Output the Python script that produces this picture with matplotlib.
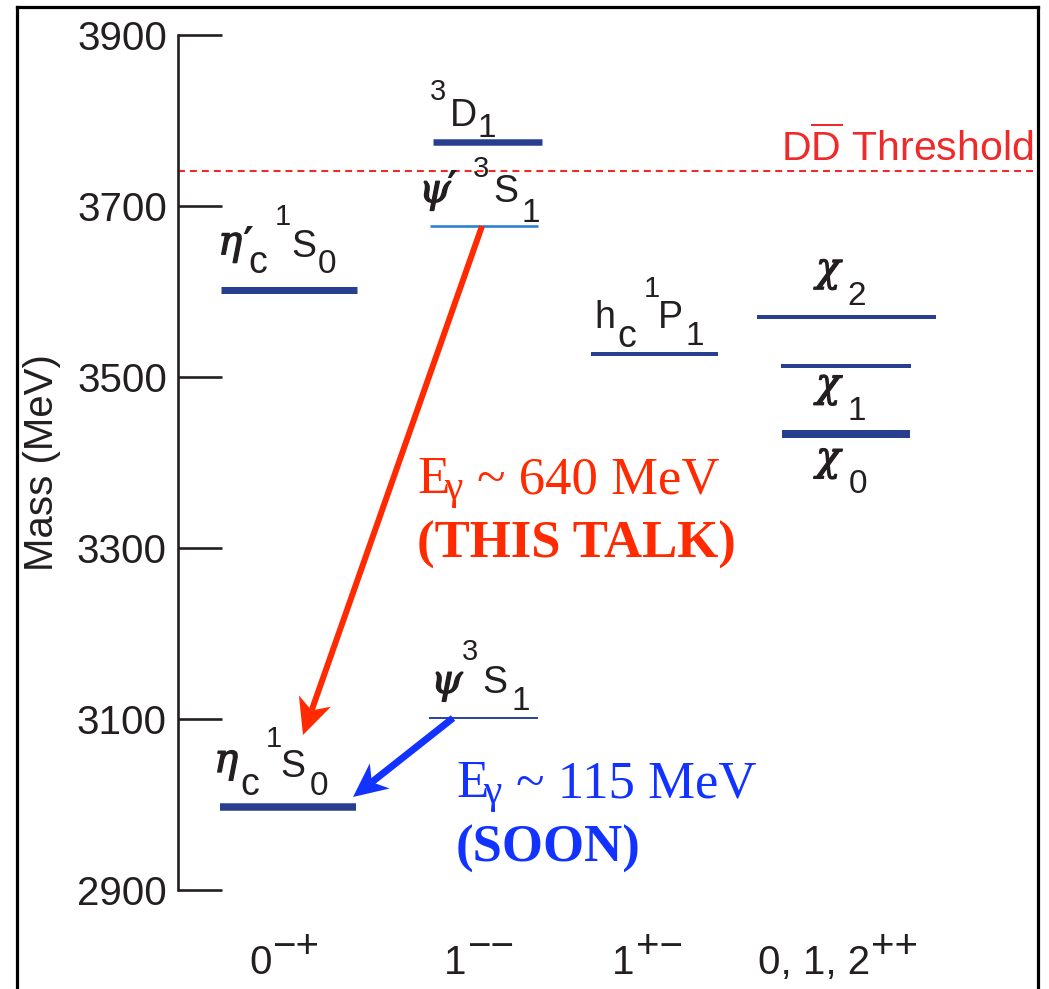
import matplotlib
matplotlib.use("Agg")
import matplotlib.pyplot as plt
import matplotlib.transforms as mtransforms
import matplotlib.patheffects as pe
from matplotlib.lines import Line2D
from matplotlib.patches import Polygon
import numpy as np

plt.rcParams["font.family"] = ["Liberation Sans", "DejaVu Sans"]
plt.rcParams["mathtext.fontset"] = "custom"
plt.rcParams["mathtext.rm"] = "Liberation Sans"
plt.rcParams["lines.scale_dashes"] = False

# charmonium levels, masses (MeV)
states = ["eta_c", "eta_c'", "psi", "psi'", "3D1", "h_c", "chi_0", "chi_1", "chi_2"]
masses = [2997, 3601, 3101, 3676, 3774, 3527, 3433, 3512, 3570]
dd_threshold = 3740
mass_ticks = [2900, 3100, 3300, 3500, 3700, 3900]
jpc = [("0", "\u2212+"), ("1", "\u2212\u2212"), ("1", "+\u2212"), ("0, 1, 2", "++")]
photon_red = ["E", "\u03b3", "~ 640 MeV", "(THIS TALK)"]
photon_blue = ["E", "\u03b3", "~ 115 MeV", "(SOON)"]

W, H = 1049, 989
PX_PER_MEV = 0.8555
Y_3900 = 34.5          # pixel row of the 3900 tick


def mass_at(row):
    # pixel row (from top) -> mass coordinate
    return 3900 - (row - Y_3900) / PX_PER_MEV


NAVY = "#283f8f"
RED = "#ff2a00"
BLUE = "#1233ff"
INK = "#231f20"

# x extent (px) and line thickness (px) of each level
layout = {
    "eta_c":  (220, 356, 7.5, NAVY),
    "eta_c'": (221, 357, 7.0, NAVY),
    "psi":    (429, 538, 2.0, "#2a48a0"),
    "psi'":   (430, 538, 2.6, "#2a80d0"),
    "3D1":    (433, 542, 6.5, NAVY),
    "h_c":    (591, 718, 4.0, NAVY),
    "chi_0":  (782, 910, 8.0, NAVY),
    "chi_1":  (781, 911, 4.0, NAVY),
    "chi_2":  (757, 936, 4.0, NAVY),
}

fig = plt.figure(figsize=(W / 100, H / 100), dpi=100)
ax = fig.add_axes([0, 0, 1, 1])
ax.set_xlim(0, W)
ax.set_ylim(mass_at(H), mass_at(0))
ax.patch.set_alpha(0)

for name, m in zip(states, masses):
    x0, x1, lw, col = layout[name]
    ax.plot([x0, x1], [m, m], color=col, lw=lw * 0.72, solid_capstyle="butt")

# threshold
ax.plot([178, 1038], [dd_threshold, dd_threshold], color="#ee2a2a", lw=1.5,
        dashes=(5, 3.6))
ax.text(1033, dd_threshold, r"D$\overline{\mathrm{D}}$ Threshold", color="#ee2a2a",
        fontsize=29.5, ha="right", va="baseline",
        transform=mtransforms.offset_copy(ax.transData, x=0, y=11, units="dots"))

# y axis
for s in ["top", "right", "bottom"]:
    ax.spines[s].set_visible(False)
ax.spines["left"].set_position(("data", 178))
ax.spines["left"].set_bounds(2900, 3900)
ax.spines["left"].set_linewidth(1.9)
ax.spines["left"].set_color(INK)
ax.set_xticks([])
ax.set_yticks(mass_ticks)
ax.tick_params(axis="y", direction="in", length=31.5, width=1.9, pad=8,
               labelsize=29, colors=INK)
fig.text(42 / W, 1 - 463 / H, "Mass (MeV)", rotation=90, fontsize=29,
         ha="center", va="center", color=INK)

SERIF = ["Liberation Serif", "DejaVu Serif"]
thicken = [pe.withStroke(linewidth=0.9, foreground=INK)]
STYLE = {
    "greek": dict(family="DejaVu Serif", style="italic", fontsize=29, path_effects=thicken),
    "prime": dict(family="DejaVu Sans", fontweight="bold", fontsize=30),
    "main": dict(fontsize=27),
    "subc": dict(fontsize=27),
    "sub": dict(fontsize=24),
    "sup": dict(fontsize=21),
    "jpc": dict(fontsize=29),
    "jpcs": dict(fontsize=29),
}


def pieces(x, y, items, color=INK):
    for txt, kind, dx, dy in items:
        tr = mtransforms.offset_copy(ax.transData, x=dx, y=dy, units="dots")
        ax.text(x, y, txt, transform=tr, ha="left", va="baseline", color=color,
                **STYLE[kind])


m = dict(zip(states, masses))
ETA, PSI, CHI, PRIME = "\u03b7", "\u03c8", "\u03c7", "\u2032"
# (x start, px from line to baseline, pieces)
labels = {
    "eta_c'": (218, 33, [(ETA, "greek", 0, 3), (PRIME, "prime", 24, 0),
                         ("c", "subc", 30, -16), ("1", "sup", 57, 32),
                         ("S", "main", 73, 0), ("0", "sub", 100, -16)]),
    "eta_c": (214, 30, [(ETA, "greek", 0, 5), ("c", "subc", 26, -18),
                        ("1", "sup", 52, 30), ("S", "main", 66, 0),
                        ("0", "sub", 96, -18)]),
    "3D1": (430, 16, [("3", "sup", 0, 26), ("D", "main", 20, 0), ("1", "sub", 48, -11)]),
    "psi'": (419, 24, [(PSI, "greek", 0, 0), (PRIME, "prime", 27, 1),
                       ("3", "sup", 54, 25), ("S", "main", 74, 0),
                       ("1", "sub", 102, -20)]),
    "psi": (431, 25, [(PSI, "greek", 0, 0), ("3", "sup", 31, 33),
                      ("S", "main", 51, 0), ("1", "sub", 81, -17)]),
    "h_c": (594, 26, [("h", "main", 0, 0), ("c", "subc", 23, -19), ("1", "sup", 50, 31),
                      ("P", "main", 64, 0), ("1", "sub", 92, -17)]),
    "chi_2": (816, 36, [(CHI, "greek", 0, 0), ("2", "sub", 31, -24)]),
    "chi_1": (816, -30, [(CHI, "greek", 0, 0), ("1", "sub", 31, -24)]),
    "chi_0": (816, -36, [(CHI, "greek", 0, 0), ("0", "sub", 33, -23)]),
}
for name, (x, off, items) in labels.items():
    shifted = [(t, k, dx, dy + off) for t, k, dx, dy in items]
    pieces(x, m[name], shifted)

# J^PC labels along the bottom
jpc_x = [249, 444, 612, 758]
fig.canvas.draw()
for (base, sign), x in zip(jpc, jpc_x):
    t = ax.text(x, mass_at(974), base, ha="left", va="baseline", color=INK,
                **STYLE["jpc"])
    wpx = t.get_window_extent(fig.canvas.get_renderer()).width
    pieces(x, mass_at(974), [(sign, "jpcs", wpx + 1, 16)])


# photon arrows
def arrow(x0, m0, x1, m1, color, lw_px, head_len, head_w, notch):
    p0 = ax.transData.transform((x0, m0))
    p1 = ax.transData.transform((x1, m1))
    u = (p1 - p0) / np.hypot(*(p1 - p0))
    n = np.array([-u[1], u[0]])
    base = p1 - (head_len - notch) * u
    b = ax.transData.inverted().transform(base)
    ax.plot([x0, b[0]], [m0, b[1]], color=color, lw=lw_px * 0.72,
            solid_capstyle="butt")
    head = [p1, p1 - head_len * u + head_w * n, base, p1 - head_len * u - head_w * n]
    ax.add_patch(Polygon(head, closed=True, color=color, lw=0,
                         transform=mtransforms.IdentityTransform()))


arrow(482, m["psi'"], 303, mass_at(735), RED, 6, 36, 17, 10)
arrow(453, m["psi"], 353, mass_at(797), BLUE, 7, 34, 16, 10)


# photon energy notes
def note(x, row, parts, color):
    e, g, rest, tag = parts
    y = mass_at(row)
    for txt, dx, dy, size in [(e, 0, 0, 38), (g, 27, -6, 30), (rest, 60, 0, 38)]:
        tr = mtransforms.offset_copy(ax.transData, x=dx, y=dy, units="dots")
        ax.text(x, y, txt, transform=tr, family=SERIF, fontsize=size,
                color=color, ha="left", va="baseline")
    ax.text(x, mass_at(row + 65), tag, family=SERIF, fontsize=38,
            fontweight="bold", color=color, ha="left", va="baseline")


note(417, 493, photon_red, RED)
note(456, 797, photon_blue, BLUE)

# outer frame (bottom edge is cut off)
fx = lambda px: px / W
fy = lambda px: 1 - px / H
for xs, ys in [([17, 17], [7, H + 5]), ([17, 1038], [7, 7]), ([1038, 1038], [7, H + 5])]:
    fig.add_artist(Line2D([fx(v) for v in xs], [fy(v) for v in ys],
                          color="black", lw=2.3, solid_capstyle="projecting"))

fig.savefig("out.png", dpi=100)
